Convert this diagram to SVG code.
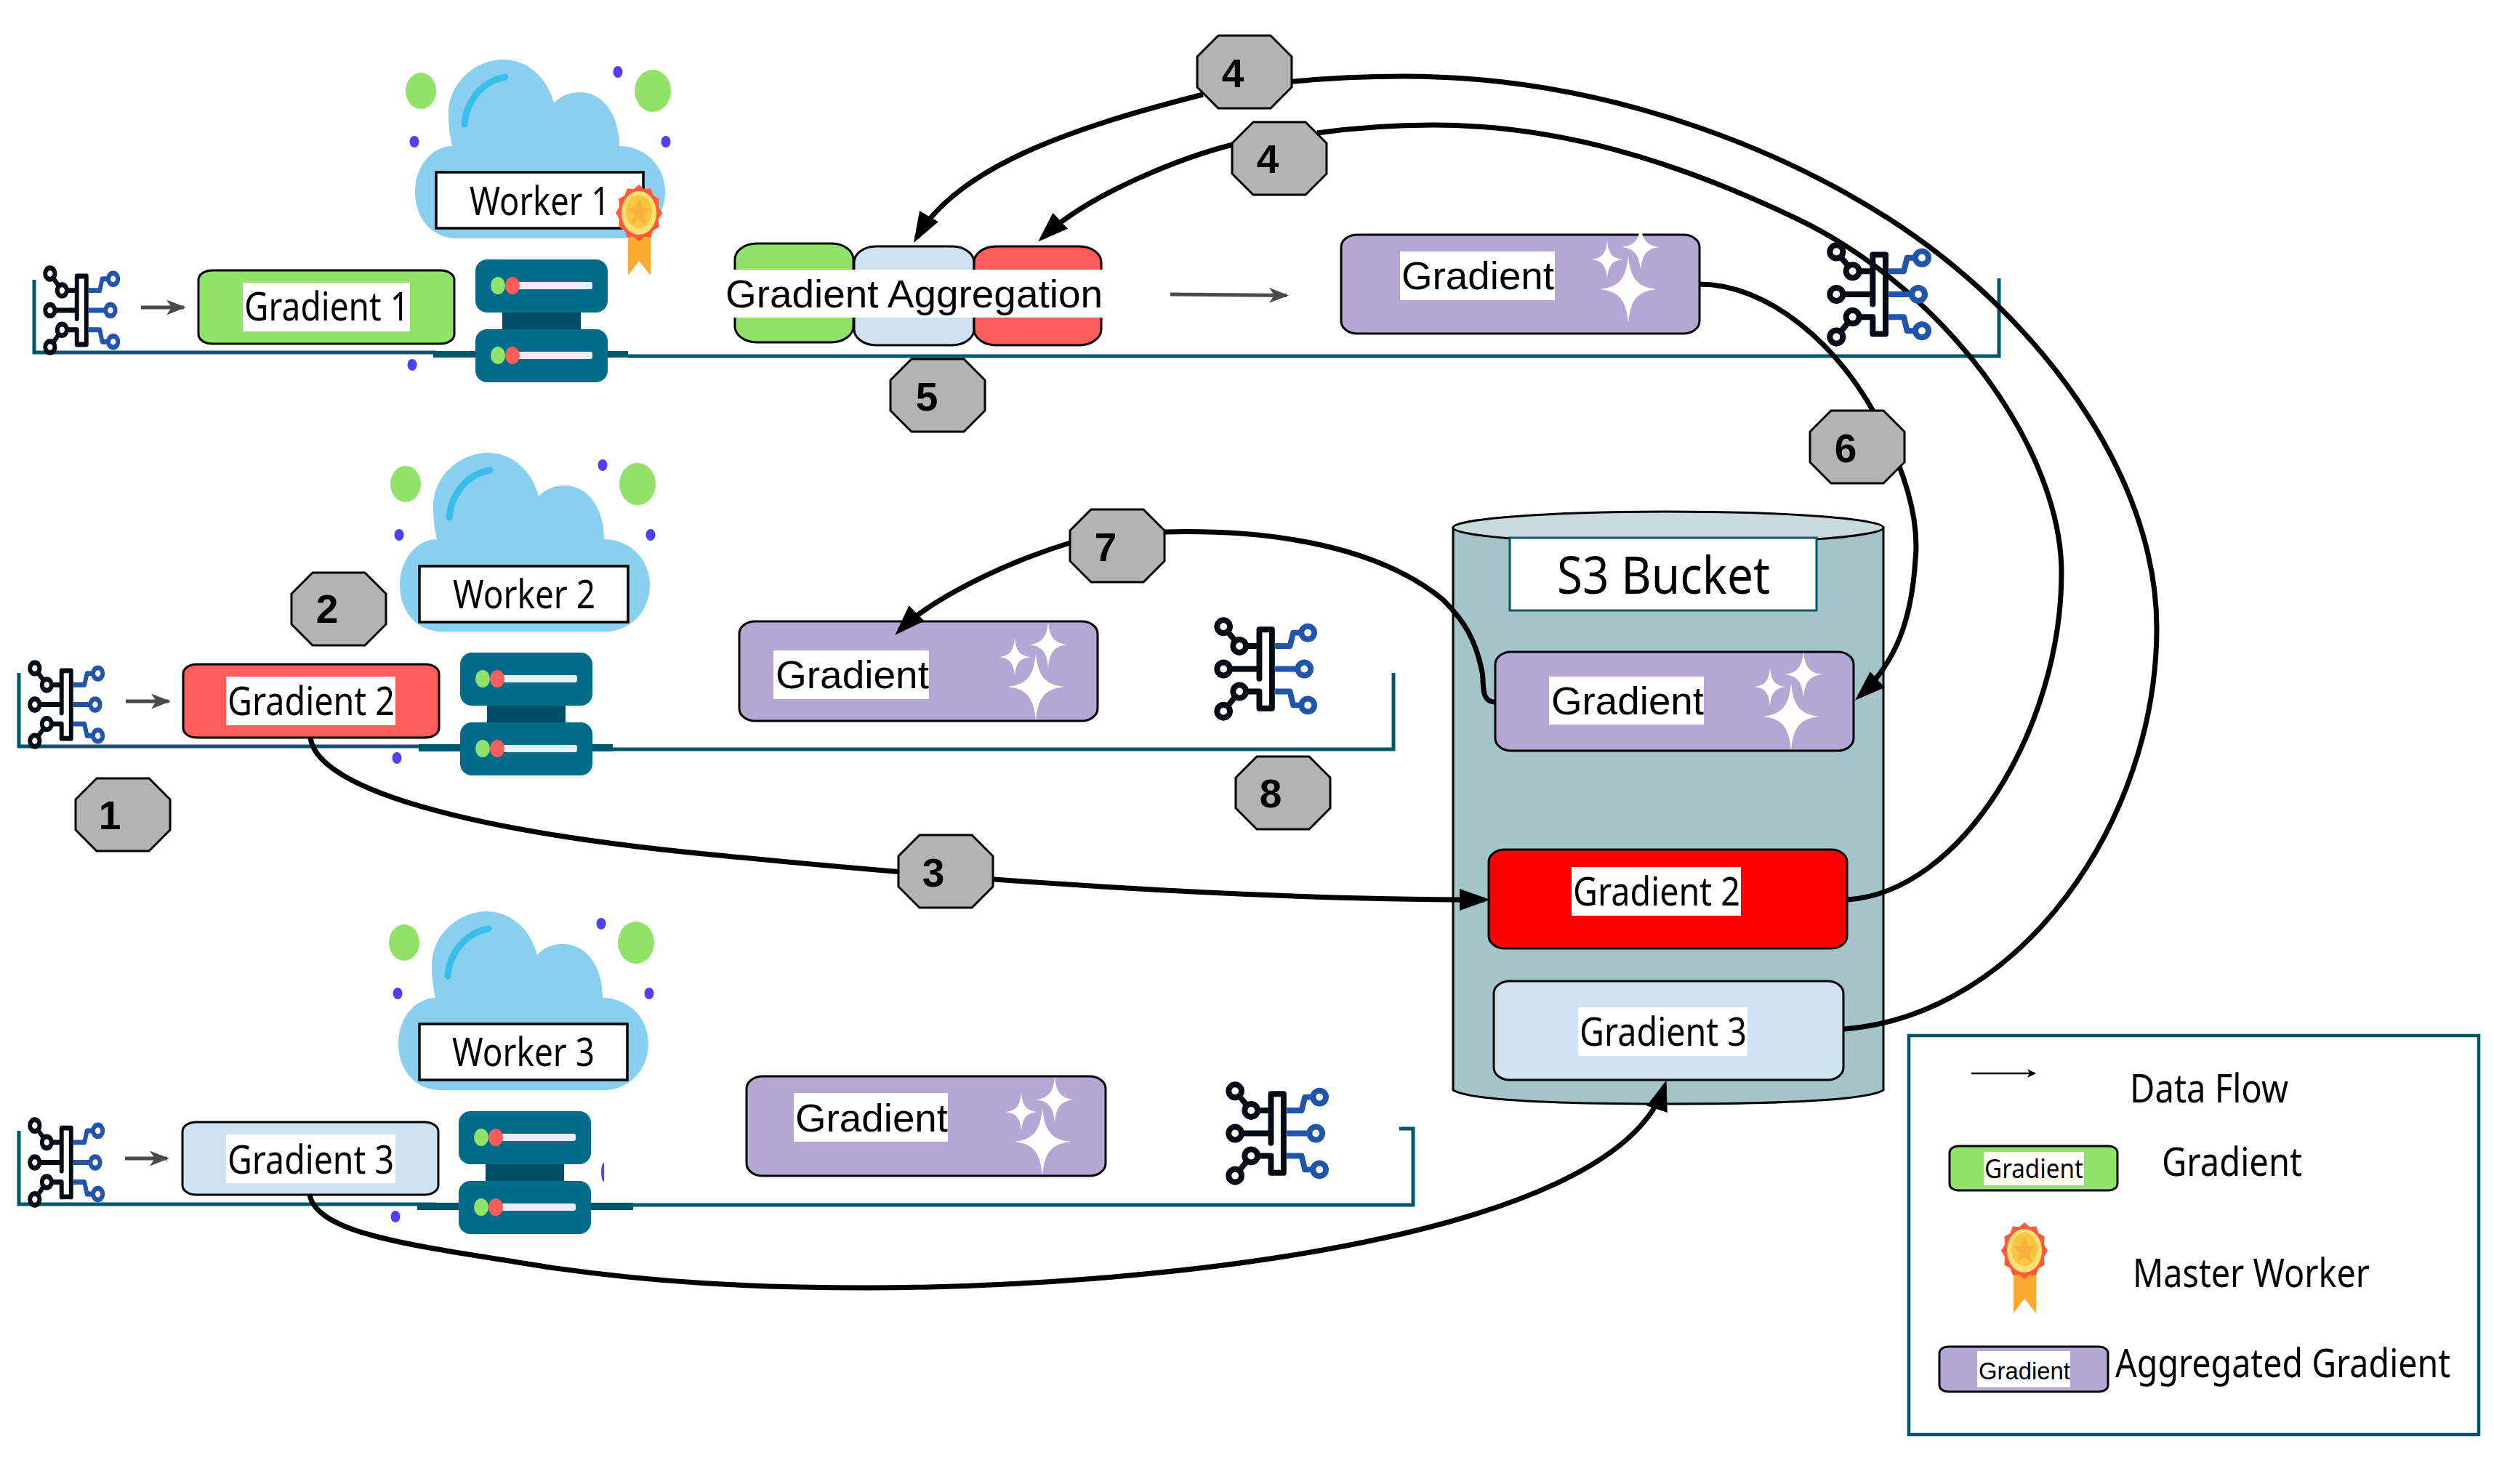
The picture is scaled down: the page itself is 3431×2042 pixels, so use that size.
<svg xmlns="http://www.w3.org/2000/svg" xmlns:xlink="http://www.w3.org/1999/xlink" width="3431" height="2042" viewBox="0 0 3431 2042">
<style>
.n{font-family:"Noto Sans","Open Sans",sans-serif;font-size:54px;fill:#000}
.l{font-family:"Liberation Sans",Arial,sans-serif;font-size:54px;fill:#000}
.num{font-family:"Liberation Sans",Arial,sans-serif;font-size:55px;font-weight:700;fill:#000}
.box{stroke:#000;stroke-width:3}
.green{fill:#90e268}.red{fill:#ff5c5c}.blue{fill:#cfe2f3}.purple{fill:#b4a7d6}.pure{fill:#ff0000}
.wh{fill:#fff}
.wbox{fill:#fff;stroke:#000;stroke-width:3.5}
.frame{fill:none;stroke:#00566b;stroke-width:5}
.bar{fill:#00566b}
.conn{fill:none;stroke:#000;stroke-width:7}
.flow{fill:none;stroke:#4a4a4a;stroke-width:5}
</style>
<defs>
<marker id="ah" markerUnits="userSpaceOnUse" markerWidth="44" markerHeight="30" refX="34" refY="15" orient="auto"><polygon points="0,0 42,15 0,30" fill="#000"/></marker>
<marker id="fh" markerUnits="userSpaceOnUse" markerWidth="28" markerHeight="22" refX="24" refY="10.5" orient="auto"><polygon points="0,0 27,10.5 0,21 7,10.5" fill="#4a4a4a"/></marker>
<marker id="lh" markerUnits="userSpaceOnUse" markerWidth="14" markerHeight="14" refX="10" refY="6" orient="auto"><polygon points="0,0 12,6 0,12 3,6" fill="#000"/></marker>
<symbol id="cloud" viewBox="-10 -5 370 440" width="370" height="440" overflow="visible">
<path d="M51 119C47 100 46 90 46 75C46 30 85 0 121 0C155 0 182 25 191 60C200 50 212 45 227 45C258 45 281 75 281 119C315 119 344 145 344 182C344 220 315 246 284 246H57C25 246 0 220 0 182C0 145 25 119 51 119Z" fill="#89cff0"/>
<path d="M124 24C90 30 70 60 68 89" fill="none" stroke="#3bbdeb" stroke-width="9" stroke-linecap="round"/>
<ellipse cx="8" cy="43" rx="21" ry="25" fill="#90e268"/><ellipse cx="327" cy="43" rx="25" ry="29" fill="#90e268"/>
<ellipse cx="-1" cy="113" rx="6.5" ry="8" fill="#5040f5"/><ellipse cx="279" cy="17" rx="6.5" ry="8" fill="#5040f5"/><ellipse cx="345" cy="113" rx="6.5" ry="8" fill="#5040f5"/><ellipse cx="-4" cy="420" rx="6.5" ry="8" fill="#5040f5"/>
</symbol>
<symbol id="server" viewBox="0 0 182 169" width="182" height="169">
<rect x="37" y="70" width="108" height="30" fill="#004f66"/>
<rect width="182" height="73" rx="16" fill="#006c89"/><rect y="96" width="182" height="73" rx="16" fill="#006c89"/>
<rect x="50" y="31" width="111" height="10" rx="3" fill="#e8eefa"/><rect x="50" y="127" width="111" height="10" rx="3" fill="#e8eefa"/>
<ellipse cx="31" cy="36" rx="10" ry="12" fill="#90e268"/><ellipse cx="51" cy="36" rx="10" ry="12" fill="#ff5c5c"/>
<ellipse cx="31" cy="132" rx="10" ry="12" fill="#90e268"/><ellipse cx="51" cy="132" rx="10" ry="12" fill="#ff5c5c"/>
</symbol>
<symbol id="icon" viewBox="0 0 435 430" preserveAspectRatio="none">
<g fill="none" stroke="#040b14" stroke-width="24" stroke-linecap="round" stroke-linejoin="round">
<path d="M40 40L107 120H180M40 215H188M190 255V52H243V378H190V308H107L40 390"/>
<circle cx="40" cy="40" r="27" fill="#fff"/><circle cx="107" cy="120" r="27" fill="#fff"/><circle cx="40" cy="215" r="27" fill="#fff"/><circle cx="107" cy="308" r="27" fill="#fff"/><circle cx="40" cy="390" r="27" fill="#fff"/>
</g>
<g fill="none" stroke="#2154ab" stroke-width="24" stroke-linejoin="round">
<path d="M256 120H318L332 65H393M256 215H378M256 308H318L332 365H393"/>
<circle cx="393" cy="65" r="27" fill="#fff"/><circle cx="378" cy="215" r="27" fill="#fff"/><circle cx="393" cy="365" r="27" fill="#fff"/>
</g>
</symbol>
<symbol id="medal" viewBox="0 -2 65 127" width="65" height="127">
<polygon points="17,70 48,70 48,124 32,104 17,124" fill="#fca92f"/>
<polygon points="32,-1 39.2,5.2 48,4.2 51.7,14 59.7,18.5 58.9,29.2 64,38 58.9,46.8 59.7,57.5 51.7,62 48,71.8 39.2,70.8 32,77 24.8,70.8 16,71.8 12.3,62 4.3,57.5 5.1,46.8 0,38 5.1,29.2 4.3,18.5 12.3,14 16,4.2 24.8,5.2" fill="#ff5a3c"/>
<ellipse cx="32" cy="38" rx="24" ry="30" fill="#fde074"/><ellipse cx="32" cy="36" rx="18" ry="23" fill="#f8c63f"/>
<polygon points="32,18 37,31 47,32 39,41 42,54 32,47 22,54 25,41 17,32 27,31" fill="#fbb03b"/>
</symbol>
<g id="sparkle" fill="#fff">
<path d="M0 -46.5C3 -15 12 -3 39 0C12 3 3 15 0 46.5C-3 15 -12 3 -39 0C-12 -3 -3 -15 0 -46.5Z"/>
<path d="M0 -46.5C3 -15 12 -3 39 0C12 3 3 15 0 46.5C-3 15 -12 3 -39 0C-12 -3 -3 -15 0 -46.5Z" transform="translate(17,-58) scale(.68)"/>
<path d="M0 -46.5C3 -15 12 -3 39 0C12 3 3 15 0 46.5C-3 15 -12 3 -39 0C-12 -3 -3 -15 0 -46.5Z" transform="translate(-29,-41) scale(.56)"/>
</g>
<polygon id="oct" points="29,0 101,0 130,29 130,71 101,100 29,100 0,71 0,29" fill="#b3b3b3" stroke="#000" stroke-width="3"/>
</defs>
<rect width="3431" height="2042" fill="#fff"/>

<g id="frames">
<path class="frame" d="M47 385V485H600"/><rect class="bar" x="596" y="483" width="268" height="9"/><path class="frame" d="M864 490H2750V383"/>
<path class="frame" d="M26 926V1027H600"/><rect class="bar" x="576" y="1024" width="267" height="10"/><path class="frame" d="M843 1031H1917V926"/>
<path class="frame" d="M26 1556V1657H600"/><rect class="bar" x="574" y="1655" width="297" height="10"/><path class="frame" d="M871 1658H1944V1553H1925"/>
</g>

<g id="bucket">
<path d="M1999 726V1500Q2030 1519 2295 1519Q2560 1519 2591 1500V726Z" fill="#a3c4c9" stroke="#000" stroke-width="3"/>
<ellipse cx="2295" cy="726" rx="296" ry="22" fill="#c8dade" stroke="#000" stroke-width="3"/>
<rect x="2077" y="740" width="422" height="100" fill="#fff" stroke="#00566b" stroke-width="3"/>
<text class="n" x="2142" y="817" style="font-size:72px" textLength="293" lengthAdjust="spacingAndGlyphs">S3 Bucket</text>
</g>

<g id="worker1">
<use href="#cloud" x="561" y="77"/>
<rect class="wbox" x="600" y="237" width="285" height="77"/>
<text class="n" x="646" y="296" textLength="193" lengthAdjust="spacingAndGlyphs">Worker 1</text>
<use href="#icon" x="59" y="365" width="107" height="124"/>
<path class="flow" d="M194 423H253" marker-end="url(#fh)"/>
<use href="#server" x="654" y="357"/>
<use href="#medal" x="847" y="253"/>
</g>
<g id="gradient1">
<rect class="box green" x="273" y="372" width="352" height="101" rx="19" ry="13"/>
<rect class="wh" x="334" y="389" width="230" height="67"/>
<text class="n" x="336" y="441" textLength="227" lengthAdjust="spacingAndGlyphs">Gradient 1</text>
</g>
<g id="aggregation">
<rect class="box green" x="1011" y="335" width="163" height="136" rx="30" ry="22"/>
<rect class="box blue" x="1175" y="339" width="165" height="136" rx="30" ry="22"/>
<rect class="box red" x="1340" y="339" width="175" height="136" rx="30" ry="22"/>
<rect class="wh" x="1009" y="371" width="508" height="66"/>
<text class="l" x="998" y="423" textLength="519" lengthAdjust="spacingAndGlyphs">Gradient Aggregation</text>
<path class="flow" d="M1610 405L1770 406.5" marker-end="url(#fh)"/>
</g>
<g id="aggregated1">
<rect class="box purple" x="1845" y="323" width="493" height="136" rx="22" ry="17"/>
<rect class="wh" x="1926" y="346" width="213" height="67"/>
<text class="l" x="1928" y="398" textLength="210" lengthAdjust="spacingAndGlyphs">Gradient</text>
<use href="#sparkle" x="2240" y="398"/>
</g>

<g id="worker2">
<use href="#cloud" x="540" y="618"/>
<rect class="wbox" x="577" y="779" width="287" height="77"/>
<text class="n" x="623" y="837" textLength="196" lengthAdjust="spacingAndGlyphs">Worker 2</text>
<use href="#icon" x="38" y="908" width="107" height="123"/>
<path class="flow" d="M173 965H232" marker-end="url(#fh)"/>
<use href="#server" x="633" y="898"/>
</g>
<g id="gradient2">
<rect class="box red" x="252" y="914" width="352" height="101" rx="19" ry="13"/>
<rect class="wh" x="311" y="931" width="233" height="67"/>
<text class="n" x="313" y="984" textLength="230" lengthAdjust="spacingAndGlyphs">Gradient 2</text>
</g>
<g id="aggregated2">
<rect class="box purple" x="1017" y="855" width="493" height="137" rx="22" ry="17"/>
<rect class="wh" x="1064" y="895" width="214" height="67"/>
<text class="l" x="1067" y="947" textLength="211" lengthAdjust="spacingAndGlyphs">Gradient</text>
<use href="#sparkle" x="1425" y="945"/>
<use href="#icon" x="1670" y="849" width="143" height="143"/>
</g>

<g id="worker3">
<use href="#cloud" x="538" y="1249"/>
<rect class="wbox" x="577" y="1409" width="286" height="77"/>
<text class="n" x="622" y="1467" textLength="196" lengthAdjust="spacingAndGlyphs">Worker 3</text>
<use href="#icon" x="38" y="1537" width="107" height="125"/>
<path class="flow" d="M172 1594H230" marker-end="url(#fh)"/>
<use href="#server" x="631" y="1529"/>
<path d="M831 1600A4 13 0 0 0 831 1626Z" fill="#5040f5"/>
</g>
<g id="gradient3">
<rect class="box blue" x="251" y="1544" width="352" height="100" rx="19" ry="13"/>
<rect class="wh" x="311" y="1561" width="233" height="67"/>
<text class="n" x="313" y="1615" textLength="229" lengthAdjust="spacingAndGlyphs">Gradient 3</text>
</g>
<g id="aggregated3">
<rect class="box purple" x="1027" y="1481" width="494" height="137" rx="22" ry="17"/>
<rect class="wh" x="1092" y="1504" width="212" height="67"/>
<text class="l" x="1094" y="1557" textLength="210" lengthAdjust="spacingAndGlyphs">Gradient</text>
<use href="#sparkle" x="1434" y="1571"/>
<use href="#icon" x="1686" y="1488" width="143" height="143"/>
</g>

<g id="bucket-items">
<g id="s3-gradient">
<rect class="box purple" x="2057" y="897" width="493" height="136" rx="22" ry="17"/>
<rect class="wh" x="2131" y="931" width="213" height="66"/>
<text class="l" x="2134" y="983" textLength="210" lengthAdjust="spacingAndGlyphs">Gradient</text>
<use href="#sparkle" x="2464" y="986"/>
</g>
<g id="s3-gradient2">
<rect class="box pure" x="2048" y="1169" width="493" height="136" rx="22" ry="17"/>
<rect class="wh" x="2162" y="1193" width="233" height="67"/>
<text class="n" x="2164" y="1246" textLength="230" lengthAdjust="spacingAndGlyphs">Gradient 2</text>
</g>
<g id="s3-gradient3">
<rect class="box blue" x="2055" y="1350" width="481" height="136" rx="22" ry="17"/>
<rect class="wh" x="2171" y="1386" width="233" height="67"/>
<text class="n" x="2173" y="1439" textLength="230" lengthAdjust="spacingAndGlyphs">Gradient 3</text>
</g>
</g>

<g id="connectors">
<path class="conn" d="M2536 1416C2780 1398 2967 1130 2967 864C2967 650 2800 430 2597 300C2440 200 2200 105 1931 105C1880 105 1820 108 1770 113"/>
<path class="conn" d="M1655 130C1490 172 1320 225 1261 327" marker-end="url(#ah)"/>
<path class="conn" d="M2541 1238C2700 1228 2836 1000 2836 788C2836 620 2680 400 2470 300C2300 219 2140 172 1972 172C1920 172 1870 175 1812 183"/>
<path class="conn" d="M1700 198C1630 215 1500 265 1434 327" marker-end="url(#ah)"/>
<path class="conn" d="M2338 391C2430 391 2530 470 2590 590C2625 660 2640 720 2635 770C2630 850 2610 910 2558 958" marker-end="url(#ah)"/>
<path class="conn" d="M2057 966C2036 966 2042 940 2039 925C2030 880 2015 855 1985 825C1900 755 1760 728 1602 732"/>
<path class="conn" d="M1472 747C1380 775 1280 825 1237 868" marker-end="url(#ah)"/>
<path class="conn" d="M427 1015C436 1085 640 1145 1000 1178C1300 1208 1700 1238 2042 1238" marker-end="url(#ah)"/>
<path class="conn" d="M426 1644C436 1700 580 1715 750 1743C900 1765 1040 1772 1191 1772C1560 1772 2220 1710 2290 1494" marker-end="url(#ah)"/>
</g>

<g id="top-icon"><use href="#icon" x="2513" y="333" width="145" height="144"/></g>

<g id="step4a"><use href="#oct" x="1647" y="49"/><text class="num" x="1696" y="120" text-anchor="middle">4</text></g>
<g id="step4b"><use href="#oct" x="1695" y="168"/><text class="num" x="1744" y="238" text-anchor="middle">4</text></g>
<g id="step5"><use href="#oct" x="1225" y="494"/><text class="num" x="1275" y="565" text-anchor="middle">5</text></g>
<g id="step6"><use href="#oct" x="2490" y="565"/><text class="num" x="2539" y="636" text-anchor="middle">6</text></g>
<g id="step7"><use href="#oct" x="1472" y="701"/><text class="num" x="1521" y="772" text-anchor="middle">7</text></g>
<g id="step2"><use href="#oct" x="401" y="788"/><text class="num" x="450" y="857" text-anchor="middle">2</text></g>
<g id="step1"><use href="#oct" x="104" y="1071"/><text class="num" x="151" y="1141" text-anchor="middle">1</text></g>
<g id="step8"><use href="#oct" x="1700" y="1041"/><text class="num" x="1748" y="1111" text-anchor="middle">8</text></g>
<g id="step3"><use href="#oct" x="1236" y="1149"/><text class="num" x="1284" y="1220" text-anchor="middle">3</text></g>

<g id="legend">
<rect x="2626" y="1425" width="784" height="549" fill="#fff" stroke="#00566b" stroke-width="4.5"/>
<path d="M2712 1477H2799" fill="none" stroke="#000" stroke-width="2.5" marker-end="url(#lh)"/>
<text class="n" x="2930" y="1517" textLength="218" lengthAdjust="spacingAndGlyphs">Data Flow</text>
<rect class="box green" x="2682" y="1577" width="231" height="61" rx="12" ry="9"/>
<rect class="wh" x="2729" y="1585" width="138" height="46"/>
<text class="n" x="2730" y="1621" style="font-size:36px" textLength="136" lengthAdjust="spacingAndGlyphs">Gradient</text>
<text class="n" x="2974" y="1618" textLength="193" lengthAdjust="spacingAndGlyphs">Gradient</text>
<use href="#medal" x="2753" y="1681"/>
<text class="n" x="2934" y="1771" textLength="326" lengthAdjust="spacingAndGlyphs">Master Worker</text>
<rect class="box purple" x="2668" y="1853" width="232" height="62" rx="12" ry="9"/>
<rect class="wh" x="2720" y="1859" width="128" height="50"/>
<text class="l" x="2722" y="1898" style="font-size:34px" textLength="126" lengthAdjust="spacingAndGlyphs">Gradient</text>
<text class="n" x="2910" y="1895" textLength="461" lengthAdjust="spacingAndGlyphs">Aggregated Gradient</text>
</g>
</svg>
